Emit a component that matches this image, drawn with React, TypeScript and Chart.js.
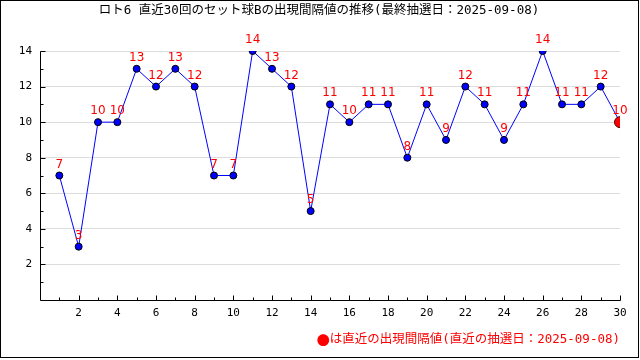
import React, { useEffect, useRef } from "react";
import { Chart, registerables } from "chart.js";

Chart.register(...registerables);

const TITLE = "ロト6 直近30回のセット球Bの出現間隔値の推移(最終抽選日：2025-09-08)";
const NOTE_MARK = "●";
const NOTE = "は直近の出現間隔値(直近の抽選日：2025-09-08)";
const draws: number[] = [1, 2, 3, 4, 5, 6, 7, 8, 9, 10, 11, 12, 13, 14, 15, 16, 17, 18, 19, 20, 21, 22, 23, 24, 25, 26, 27, 28, 29, 30];
const intervals: number[] = [7, 3, 10, 10, 13, 12, 13, 12, 7, 7, 14, 13, 12, 5, 11, 10, 11, 11, 8, 11, 9, 12, 11, 9, 11, 14, 11, 11, 12, 10];
const X_MIN = 0;
const X_MAX = 30;
const Y_MIN = 0;
const Y_MAX = 14;

const CJK = '"DejaVu Sans Mono", "Noto Sans CJK JP", monospace';
const MARKF = '"Noto Sans CJK JP", sans-serif';
const NUM = '"DejaVu Sans Mono", monospace';
const LBL = '"DejaVu Sans", sans-serif';

const decorPlugin = {
  id: "decor",
  beforeDatasetsDraw(chart: any) {
    const { ctx, chartArea, scales } = chart;
    const xs = scales.x;
    const ys = scales.y;
    ctx.save();
    ctx.strokeStyle = "#000";
    ctx.lineWidth = 1;
    const left = Math.round(chartArea.left) + 0.5;
    const bottom = Math.round(chartArea.bottom) + 0.5;
    ctx.beginPath();
    ctx.moveTo(left, Math.round(ys.getPixelForValue(Y_MAX)) + 0.5);
    ctx.lineTo(left, bottom);
    ctx.lineTo(Math.round(chartArea.right) + 0.5, bottom);
    for (let v = X_MIN + 1; v <= X_MAX; v++) {
      const px = Math.round(xs.getPixelForValue(v)) + 0.5;
      const len = v % 2 === 0 ? 5 : 3;
      ctx.moveTo(px, bottom);
      ctx.lineTo(px, bottom - len);
    }
    for (let v = Y_MIN + 1; v <= Y_MAX; v++) {
      const py = Math.round(ys.getPixelForValue(v)) + 0.5;
      const len = v % 2 === 0 ? 5 : 3;
      ctx.moveTo(left, py);
      ctx.lineTo(left + len, py);
    }
    ctx.stroke();
    ctx.restore();
  },
  afterDatasetsDraw(chart: any) {
    const { ctx, scales } = chart;
    const xs = scales.x;
    const ys = scales.y;
    ctx.save();
    ctx.fillStyle = "#ff0000";
    ctx.font = `12px ${LBL}`;
    ctx.textAlign = "center";
    ctx.textBaseline = "middle";
    draws.forEach((d, i) => {
      const v = intervals[i];
      ctx.fillText(String(v), xs.getPixelForValue(d), ys.getPixelForValue(v) - 11);
    });
    ctx.restore();
  },
  afterDraw(chart: any) {
    const { ctx, width, height } = chart;
    ctx.save();
    ctx.fillStyle = "#000";
    ctx.font = `12.5px ${CJK}`;
    ctx.textAlign = "center";
    ctx.textBaseline = "middle";
    ctx.fillText(TITLE, 319, 11);
    ctx.fillStyle = "#ff0000";
    ctx.textAlign = "right";
    ctx.fillText(NOTE, 620, 340);
    const w = ctx.measureText(NOTE).width;
    ctx.font = `13px ${MARKF}`;
    ctx.fillText(NOTE_MARK, 620 - w, 340);
    ctx.strokeStyle = "#000";
    ctx.lineWidth = 1;
    ctx.strokeRect(0.5, 0.5, width - 2, height - 3);
    ctx.restore();
  },
};

export default function App() {
  const ref = useRef<HTMLCanvasElement | null>(null);
  useEffect(() => {
    document.body.style.margin = "0";
    const canvas = ref.current;
    if (!canvas) return;
    const n = intervals.length;
    const chart = new Chart(canvas, {
      type: "line",
      data: {
        datasets: [
          {
            data: draws.map((d, i) => ({ x: d, y: intervals[i] })),
            borderColor: "#0000ff",
            borderWidth: 1,
            tension: 0,
            pointBackgroundColor: intervals.map((_, i) => (i === n - 1 ? "#ff0000" : "#0000ff")),
            pointBorderColor: intervals.map((_, i) => (i === n - 1 ? "#550000" : "#000000")),
            pointBorderWidth: 1,
            pointRadius: intervals.map((_, i) => (i === n - 1 ? 5.5 : 3.5)),
          },
        ],
      },
      options: {
        responsive: false,
        animation: false,
        events: [],
        layout: { padding: { top: 51, right: 20, left: 0, bottom: 0 } },
        plugins: { legend: { display: false }, title: { display: false }, tooltip: { enabled: false } },
        scales: {
          x: {
            type: "linear",
            min: X_MIN,
            max: X_MAX,
            grid: { display: false, drawTicks: false },
            border: { display: false },
            ticks: {
              stepSize: 2,
              color: "#000",
              font: { size: 11, family: NUM },
              padding: 7,
              maxRotation: 0,
              autoSkip: false,
              callback: (v: any) => (v === 0 ? "" : String(v)),
            },
            afterFit: (s: any) => {
              s.height = 60;
            },
          },
          y: {
            min: Y_MIN,
            max: Y_MAX,
            grid: { color: "#dddddd", drawTicks: false, lineWidth: 1 },
            border: { display: false },
            ticks: {
              stepSize: 2,
              color: "#000",
              font: { size: 11, family: NUM },
              padding: 8,
              callback: (v: any) => (v === 0 ? "" : String(v)),
            },
            afterFit: (s: any) => {
              s.width = 40;
            },
          },
        },
      },
      plugins: [decorPlugin],
    });
    return () => chart.destroy();
  }, []);
  return <canvas ref={ref} width={640} height={360} style={{ display: "block" }} />;
}
